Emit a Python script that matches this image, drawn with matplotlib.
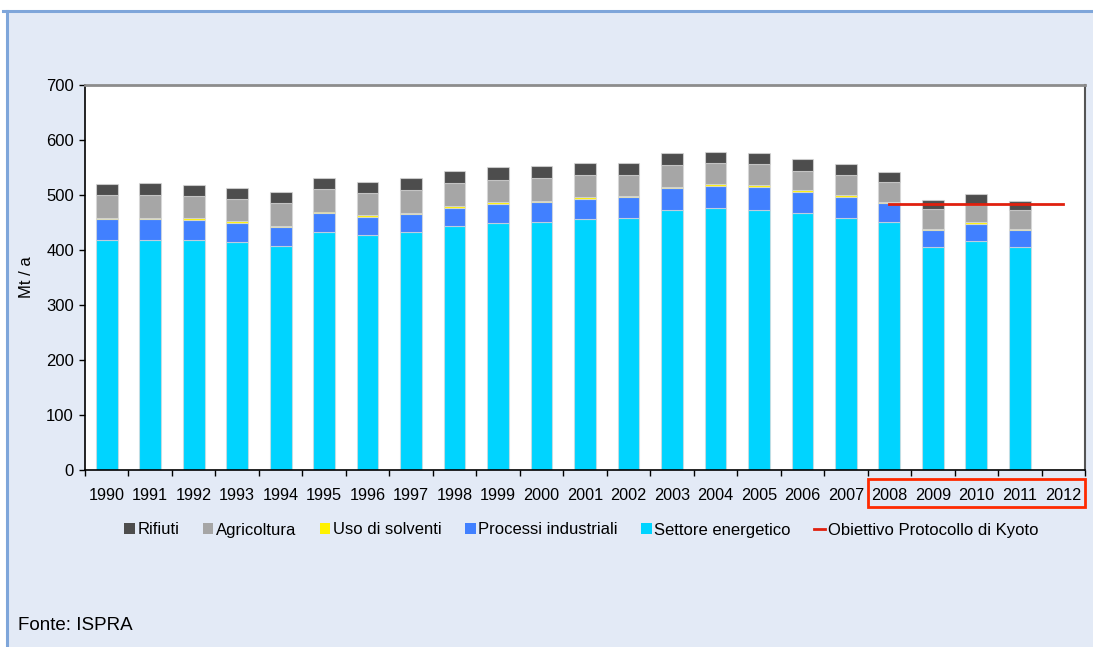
import numpy as np
import matplotlib
matplotlib.use("Agg")
import matplotlib.pyplot as plt
from matplotlib.patches import Rectangle, Patch
from matplotlib.lines import Line2D

plt.rcParams['font.family'] = ['Liberation Sans', 'DejaVu Sans']

# dati (Mt CO2 eq / anno)
anni = [str(a) for a in range(1990, 2013)]
energia = [418, 418, 418, 414, 408, 432, 428, 432, 444, 449, 450, 456, 458, 473, 476, 473, 468, 459, 450, 405, 416, 405]
industriali = [38, 38, 37, 35, 33, 35, 32, 33, 33, 35, 37, 37, 38, 39, 41, 42, 37.5, 37, 35.5, 31, 31.5, 31]
solventi = [2, 2.5, 3, 3, 2.5, 3, 3, 3, 3, 3, 2.5, 3.5, 3, 3, 3.5, 3.5, 3, 3.5, 2.5, 3, 3, 3]
agricoltura = [42, 42, 41, 41, 42, 41, 40, 41, 42, 40, 41, 40, 38, 39, 38, 37, 36, 37.5, 35.5, 35, 32, 33]
rifiuti = [20, 21, 20, 19, 20, 20, 21, 22, 22, 23, 22, 22, 22, 22, 20, 20, 21.5, 19.5, 18, 16.5, 19, 17]
kyoto_anni = ['2008', '2009', '2010', '2011', '2012']
kyoto_valori = [483.3, 483.3, 483.3, 483.3, 483.3]

serie = [
    ("Settore energetico", energia, "#00D4FF"),
    ("Processi industriali", industriali, "#4180FF"),
    ("Uso di solventi", solventi, "#FFF200"),
    ("Agricoltura", agricoltura, "#A6A6A6"),
    ("Rifiuti", rifiuti, "#4D4D4D"),
]

W, H = 1093, 647
fig = plt.figure(figsize=(W / 100, H / 100), dpi=100, facecolor="white")

# sfondo del riquadro
fig.patches.append(Rectangle((7 / W, 0), 1 - 7 / W, (H - 11) / H, transform=fig.transFigure,
                             facecolor="#E3EAF6", edgecolor="none", zorder=-10))
fig.add_artist(Line2D([7 / W, 7 / W], [0, (H - 11) / H], color="#7FA6DA", lw=2.2, zorder=-5))
fig.add_artist(Line2D([3 / W, 1], [(H - 11) / H, (H - 11) / H], color="#7FA6DA", lw=2.2, zorder=-5))

ax = fig.add_axes([85 / W, (H - 470) / H, 1000 / W, 385 / H])
ax.set_facecolor("white")

x = np.arange(len(energia))
base = np.zeros(len(energia))
for nome, val, col in serie:
    ax.bar(x, val, width=0.5, bottom=base, color=col, edgecolor=(0.85, 0.85, 0.85, 0.7),
           linewidth=0.8, zorder=2)
    base = base + np.array(val)

xk = [anni.index(a) for a in kyoto_anni]
ax.plot(xk, kyoto_valori, color="#E0200E", lw=2, zorder=3)

ax.set_xlim(-0.5, len(anni) - 0.5)
ax.set_ylim(0, 700)
ax.set_yticks(range(0, 701, 100))
ax.set_xticks(range(len(anni)))
ax.set_xticklabels(anni)
ax.set_xticks(np.arange(-0.5, len(anni), 1), minor=True)
ax.tick_params(axis="x", which="major", length=0, labelsize=11.7, pad=13)
ax.tick_params(axis="x", which="minor", length=4, width=1, direction="out")
ax.tick_params(axis="y", length=4, width=1, direction="out", labelsize=12, pad=4)
ax.set_ylabel("Mt / a", fontsize=12, labelpad=9)

for s in ["left", "bottom"]:
    ax.spines[s].set_color("black")
    ax.spines[s].set_linewidth(1.2)
ax.spines["top"].set_color("#8C8C8C")
ax.spines["top"].set_linewidth(2)
ax.spines["right"].set_color("#555555")
ax.spines["right"].set_linewidth(1.5)

# riquadro rosso sugli anni del periodo Kyoto
ax.add_patch(Rectangle((17.52, -0.096), 4.98, 0.072, transform=ax.get_xaxis_transform(),
                       fill=False, edgecolor="#FF2A00", lw=2, clip_on=False, zorder=5))

handles = [Patch(facecolor="#4D4D4D", label="Rifiuti"),
           Patch(facecolor="#A6A6A6", label="Agricoltura"),
           Patch(facecolor="#FFF200", label="Uso di solventi"),
           Patch(facecolor="#4180FF", label="Processi industriali"),
           Patch(facecolor="#00D4FF", label="Settore energetico"),
           Line2D([], [], color="#E0200E", lw=2, label="Obiettivo Protocollo di Kyoto")]
fig.legend(handles=handles, loc="center", bbox_to_anchor=(581 / W, 1 - 530 / H), ncol=6,
           frameon=False, fontsize=12, handlelength=0.65, handleheight=0.65,
           handletextpad=0.15, columnspacing=1.4)

fig.text(18 / W, 1 - 625 / H, "Fonte: ISPRA", fontsize=13.5, va="center", ha="left")

fig.savefig("out.png", dpi=100, facecolor=fig.get_facecolor())
